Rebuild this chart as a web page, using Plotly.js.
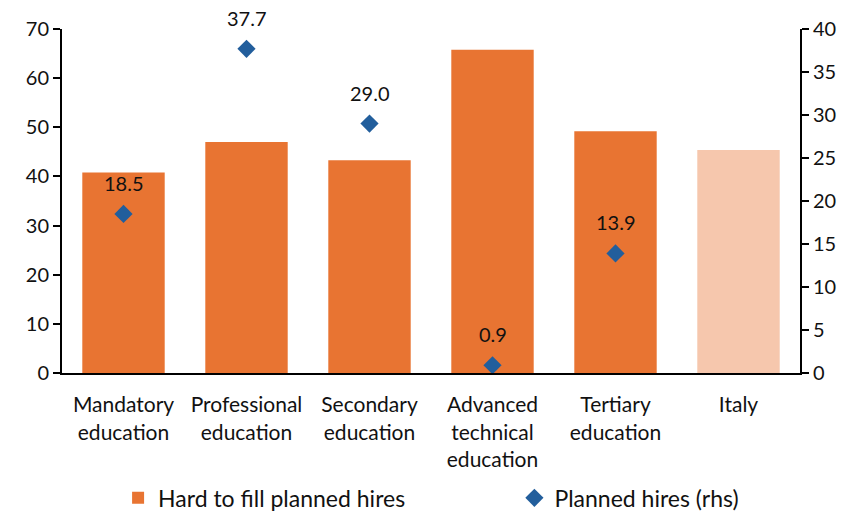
<!DOCTYPE html>
<html><head><meta charset="utf-8">
<script src="https://cdn.plot.ly/plotly-3.0.1.min.js"></script>
<style>html,body{margin:0;padding:0;background:#fff}#chart{width:853px;height:511px}</style>
</head><body><div id="chart"></div>
<script>
const categories = ["Mandatory<br>education","Professional<br>education","Secondary<br>education","Advanced<br>technical<br>education","Tertiary<br>education","Italy"];
const hardToFill = [40.8, 47.0, 43.3, 65.8, 49.2, 45.4];
const barColors = ["#E87432","#E87432","#E87432","#E87432","#E87432","#F6C7AD"];
const planCats = ["Mandatory<br>education","Professional<br>education","Secondary<br>education","Advanced<br>technical<br>education","Tertiary<br>education"];
const plannedHires = [18.5, 37.7, 29.0, 0.9, 13.9];
const plannedLabels = ["18.5","37.7","29.0","0.9","13.9"];

const font = "Lato, 'Open Sans', sans-serif";
const data = [
  {type:"bar", x:categories, y:hardToFill, name:"Hard to fill planned hires",
   marker:{color:barColors}, yaxis:"y", hoverinfo:"skip", legend:"legend"},
  {type:"scatter", mode:"markers", x:planCats, y:plannedHires, name:"Planned hires (rhs)",
   marker:{symbol:"diamond", size:14, color:"#225E9C"}, yaxis:"y2", cliponaxis:false, legend:"legend2"}
];
const annotations = plannedHires.map((v, i) => ({
  x: planCats[i], y: v, xref: "x", yref: "y2", text: plannedLabels[i],
  showarrow: false, yshift: 31, font: {size: 20, color: "#111"}
}));
const legendBase = {orientation:"h", yanchor:"middle", y:-0.363, font:{size:23}, bgcolor:"rgba(0,0,0,0)"};
const layout = {
  width:853, height:511,
  margin:{l:62, r:53, t:29, b:138, autoexpand:false},
  paper_bgcolor:"#fff", plot_bgcolor:"#fff",
  font:{family:font, size:20, color:"#111"},
  bargap:0.33,
  showlegend:true,
  annotations: annotations,
  legend:Object.assign({}, legendBase, {x:0.076, xanchor:"left"}),
  legend2:Object.assign({}, legendBase, {x:0.613, xanchor:"left"}),
  xaxis:{showline:true, linecolor:"#000", linewidth:2, ticks:"", tickfont:{size:21}, ticklabelstandoff:12, fixedrange:true},
  yaxis:{range:[0,70], dtick:10, showgrid:false, zeroline:false, showline:true, linecolor:"#000", linewidth:2,
         ticks:"outside", ticklen:7, tickwidth:2, tickcolor:"#000", tickfont:{size:20}},
  yaxis2:{range:[0,40], dtick:5, overlaying:"y", side:"right", showgrid:false, zeroline:false, showline:true,
          linecolor:"#000", linewidth:2, ticks:"outside", ticklen:7, tickwidth:2, tickcolor:"#000", tickfont:{size:20}}
};
Plotly.newPlot("chart", data, layout, {displayModeBar:false, staticPlot:true});
</script></body></html>
